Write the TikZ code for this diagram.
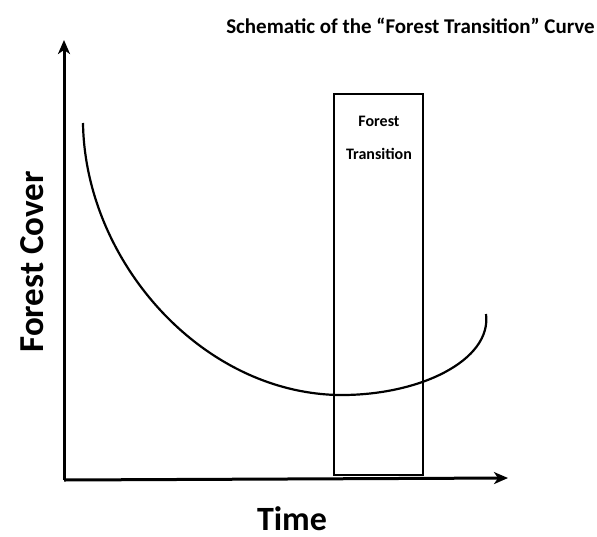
\documentclass[tikz,border=0pt]{standalone}
\usepackage{fontspec}
\setmainfont{Carlito}
\usetikzlibrary{arrows.meta}
\tikzset{
  axis/.style={line width=3pt,-{Stealth[length=14pt,width=12pt,inset=4pt]}},
  curveline/.style={line width=2.2pt},
  boxline/.style={line width=1.4pt},
  lbl/.style={font=\bfseries, inner sep=0pt}
}
\begin{document}
\begin{tikzpicture}[x=1pt,y=-1pt]
\useasboundingbox (0,0) rectangle (597,536);
\coordinate (origin) at (64,480);
\coordinate (ytip) at (64,40);
\coordinate (xtip) at (508,478);
\draw[axis] (origin) -- (ytip);
\draw[axis] (origin) -- (xtip);
\node[draw, boxline, minimum width=89pt, minimum height=381pt, inner sep=0pt] (box) at (378.5,284.5) {};
\node[lbl, font=\bfseries\fontsize{16}{18}\selectfont] (f) at (379,121) {Forest};
\node[lbl, font=\bfseries\fontsize{16}{18}\selectfont] (t) at (379,154) {Transition};
\coordinate (c0) at (83,123);
\coordinate (cmin) at (338,395);
\coordinate (c1) at (486,314);
\draw[curveline] (c0) .. controls (85,260) and (200,392) .. (cmin) .. controls (420,396) and (492,360) .. (c1);
\node[lbl, anchor=east, font=\bfseries\fontsize{21}{24}\selectfont] (title) at (595,26) {Schematic of the “Forest Transition” Curve};
\node[lbl, rotate=90, anchor=base, font=\bfseries\fontsize{35}{40}\selectfont] (yl) at (43,262) {Forest Cover};
\node[lbl, anchor=base, text depth=0pt, font=\bfseries\fontsize{34}{40}\selectfont] (xl) at (292,530) {Time};
\end{tikzpicture}
\end{document}
